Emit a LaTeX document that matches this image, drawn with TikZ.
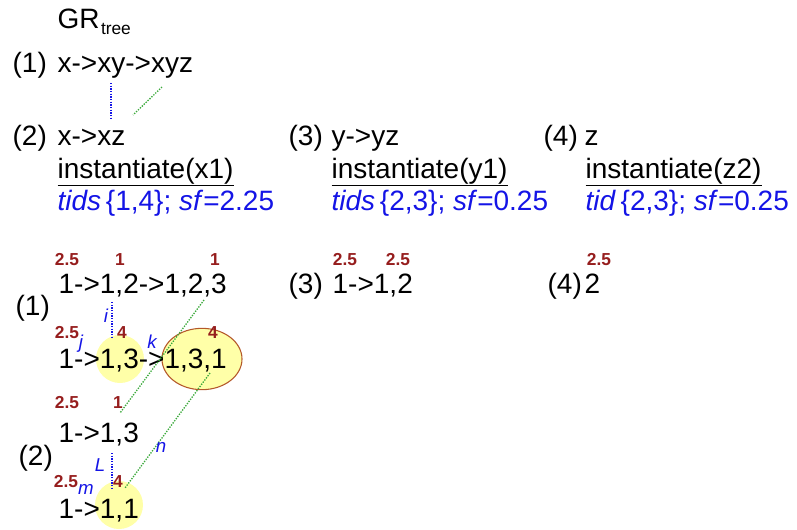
\documentclass[tikz,border=0pt]{standalone}
\usepackage{fontspec}
\setmainfont{Liberation Sans}
\usetikzlibrary{shapes.geometric}
\definecolor{cblue}{HTML}{1414E6}
\definecolor{cred}{HTML}{961E1E}
\definecolor{cgreen}{HTML}{3CAA3C}
\definecolor{cyellow}{HTML}{FFFFA8}
\definecolor{cbrown}{HTML}{B4582A}
\tikzset{
  every picture/.style={line width=1pt},
  txt/.style={anchor=base west, inner sep=0pt, font=\fontsize{21}{25}\selectfont},
  info/.style={txt, text=cblue},
  wt/.style={anchor=base, inner sep=0pt, text=cred, font=\fontsize{13}{15}\selectfont\bfseries},
  lbl/.style={anchor=base, inner sep=0pt, text=cblue, font=\fontsize{14}{16}\selectfont\itshape},
  link/.style={densely dotted, draw=cblue},
  ext/.style={densely dotted, draw=cgreen},
  hit/.style={circle, fill=cyellow, minimum size=36pt, inner sep=0pt},
  hitov/.style={ellipse, fill=cyellow, draw=cbrown, line width=0.8pt, minimum width=60pt, minimum height=46pt, inner sep=0pt},
}

\begin{document}
\begin{tikzpicture}[x=0.75pt, y=-0.75pt]
  \useasboundingbox (0,0) rectangle (797,529);
  % generalized rule tree
  \node[txt] (gr) at (57,28) {GR};
  \node[anchor=base west, inner sep=0pt, font=\fontsize{13}{15}\selectfont] (grsub) at ([yshift=-5pt]gr.base east) {tree};
  \node[txt] (n1) at (12,72) {(1)};
  \node[txt] (r1) at (57,72) {x->xy->xyz};
  \coordinate (a1) at (111,83);  \coordinate (a2) at (111,119);
  \coordinate (b1) at (162,87);  \coordinate (b2) at (133,115);
  \draw[link] (a1) -- (a2);
  \draw[ext] (b1) -- (b2);
  % the three children
  \node[txt] (n2) at (12,145) {(2)};
  \node[txt] (r2) at (57,145) {x->xz};
  \node[txt] (in2) at (57,178) {\underline{instantiate(x1)}};
  \node[info] (t2) at (57,210) {\textit{tids}\,\{1,4\}; \textit{sf}=2.25};
  \node[txt] (n3) at (288,145) {(3)};
  \node[txt] (r3) at (331,145) {y->yz};
  \node[txt] (in3) at (331,178) {\underline{instantiate(y1)}};
  \node[info] (t3) at (331,210) {\textit{tids}\,\{2,3\}; \textit{sf}=0.25};
  \node[txt] (n4) at (543,145) {(4)};
  \node[txt] (r4) at (584,145) {z};
  \node[txt] (in4) at (585,178) {\underline{instantiate(z2)}};
  \node[info] (t4) at (585,210) {\textit{tid}\,\{2,3\}; \textit{sf}=0.25};
  % instantiated trees
  \node[hit] (h13) at (120,359) {};
  \node[hitov] (h131) at (202,359) {};
  \node[hit] (h11) at (119,505) {};
  \node[txt] (m1) at (15,315) {(1)};
  \node[txt] (p1) at (58,293) {1->1,2->1,2,3};
  \node[wt] at (67,265) {2.5};
  \node[wt] at (120,265) {1};
  \node[wt] at (215,265) {1};
  \node[txt] (p2) at (58,368) {1->1,3->1,3,1};
  \node[wt] at (67,338) {2.5};
  \node[wt] at (122,338) {4};
  \node[wt] at (213,338) {4};
  \node[txt] (m2) at (18,465) {(2)};
  \node[txt] (p3) at (58,442) {1->1,3};
  \node[wt] at (67,408) {2.5};
  \node[wt] at (118,408) {1};
  \node[txt] (p4) at (58,518) {1->1,1};
  \node[wt] at (66,487) {2.5};
  \node[wt] at (118,487) {4};
  \node[txt] (m3) at (288,293) {(3)};
  \node[txt] (p5) at (332,293) {1->1,2};
  \node[wt] at (345,265) {2.5};
  \node[wt] at (398,265) {2.5};
  \node[txt] (m4) at (547,293) {(4)};
  \node[txt] (p6) at (584,293) {2};
  \node[wt] at (599,265) {2.5};
  % links between the instances
  \coordinate (i1) at (112,302); \coordinate (i2) at (112,338);
  \coordinate (g1) at (204,300); \coordinate (g2) at (120,413);
  \coordinate (g3) at (210,373); \coordinate (g4) at (125,488);
  \coordinate (l1) at (112,453); \coordinate (l2) at (112,488);
  \draw[link] (i1) -- (i2);
  \draw[ext] (g1) -- (g2);
  \draw[ext] (g3) -- (g4);
  \draw[link] (l1) -- (l2);
  \node[lbl] at (106,322) {i};
  \node[lbl] at (81,348) {j};
  \node[lbl] at (152,348) {k};
  \node[lbl] at (161,452) {n};
  \node[lbl] at (100,471) {L};
  \node[lbl] at (86,494) {m};
\end{tikzpicture}
\end{document}
